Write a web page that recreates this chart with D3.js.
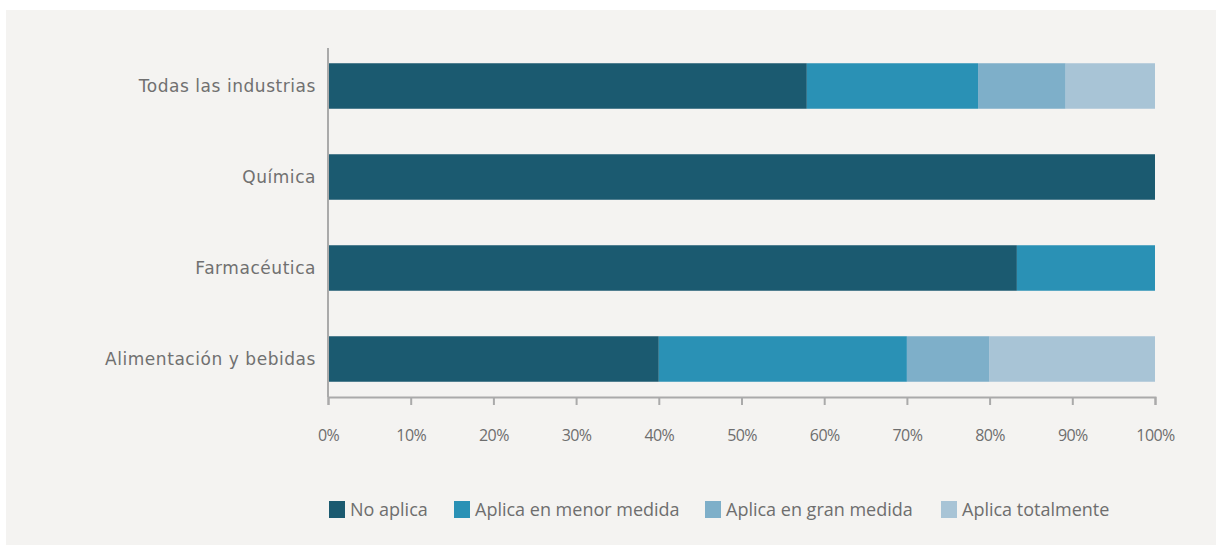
<!DOCTYPE html>
<html>
<head>
<meta charset="utf-8">
<script src="https://cdn.jsdelivr.net/npm/d3@7"></script>
<style>
  html, body { margin: 0; padding: 0; background: #ffffff; }
  svg { display: block; }
  .ylab { font-family: "DejaVu Sans", Verdana, sans-serif; font-size: 17px; fill: #707070; letter-spacing: 0.55px; }
  .leg { font-family: "Open Sans", sans-serif; fill: #6e6e6e; }
</style>
</head>
<body>
<svg id="chart" width="1216" height="545"></svg>
<script>
// Industry categories, top to bottom
const categories = ["Todas las industrias", "Química", "Farmacéutica", "Alimentación y bebidas"];

// Response levels (stack order, left to right)
const seriesNames = ["No aplica", "Aplica en menor medida", "Aplica en gran medida", "Aplica totalmente"];

// Share of companies per response level, in %, one value per category
const noAplica      = [57.9, 100, 83.3, 40];
const menorMedida   = [20.7, 0, 16.7, 30];
const granMedida    = [10.6, 0, 0, 10];
const totalmente    = [10.8, 0, 0, 20];

const tickValues = [0, 10, 20, 30, 40, 50, 60, 70, 80, 90, 100];
const colors = ["#1b5a70", "#2a91b5", "#7eafc9", "#a8c4d6"];

const rows = categories.map((c, i) => ({
  cat: c,
  [seriesNames[0]]: noAplica[i],
  [seriesNames[1]]: menorMedida[i],
  [seriesNames[2]]: granMedida[i],
  [seriesNames[3]]: totalmente[i]
}));

const svg = d3.select("#chart");

// light panel behind the chart
svg.append("rect")
  .attr("x", 6).attr("y", 10)
  .attr("width", 1210).attr("height", 535)
  .attr("fill", "#f4f3f1");

const x = d3.scaleLinear().domain([0, 100]).range([328, 1155]);
const y = d3.scaleBand().domain(categories).range([40.5, 404.5]).paddingInner(0.5).paddingOuter(0.25);

const stack = d3.stack().keys(seriesNames)(rows);
const color = d3.scaleOrdinal().domain(seriesNames).range(colors);

// stacked bars
svg.append("g")
  .selectAll("g")
  .data(stack)
  .join("g")
  .attr("fill", d => color(d.key))
  .selectAll("rect")
  .data(d => d)
  .join("rect")
  .attr("x", d => x(d[0]))
  .attr("y", d => y(d.data.cat))
  .attr("width", d => x(d[1]) - x(d[0]))
  .attr("height", y.bandwidth());

const axisY = 397;

// x axis
const xAxis = svg.append("g")
  .attr("transform", `translate(0,${axisY})`)
  .call(d3.axisBottom(x).tickValues(tickValues).tickFormat(d => d + "%").tickSize(8).tickPadding(25));
xAxis.select(".domain").attr("stroke", "#aaaaaa").attr("stroke-width", 2);
xAxis.selectAll(".tick line").attr("stroke", "#aaaaaa").attr("stroke-width", 2);
xAxis.selectAll(".tick text").attr("font-size", 16).attr("fill", "#6e6e6e")
  .attr("letter-spacing", "-0.6px")
  .style("font-family", '"Open Sans", sans-serif');

// y axis line
svg.append("line")
  .attr("x1", 328).attr("x2", 328)
  .attr("y1", 48).attr("y2", axisY)
  .attr("stroke", "#aaaaaa").attr("stroke-width", 2);

// category labels
svg.append("g")
  .selectAll("text")
  .data(categories)
  .join("text")
  .attr("class", "ylab")
  .attr("x", 316)
  .attr("y", d => y(d) + y.bandwidth() / 2)
  .attr("dy", "0.35em")
  .attr("text-anchor", "end")
  .text(d => d);

// legend
const legendX = [329, 454, 705, 941];
const leg = svg.append("g")
  .selectAll("g")
  .data(seriesNames)
  .join("g")
  .attr("transform", (d, i) => `translate(${legendX[i]},501)`);
leg.append("rect").attr("width", 16).attr("height", 17).attr("fill", d => color(d));
leg.append("text")
  .attr("class", "leg")
  .attr("x", 21).attr("y", 9).attr("dy", "0.35em")
  .attr("font-size", 18)
  .text(d => d);
</script>
</body>
</html>
